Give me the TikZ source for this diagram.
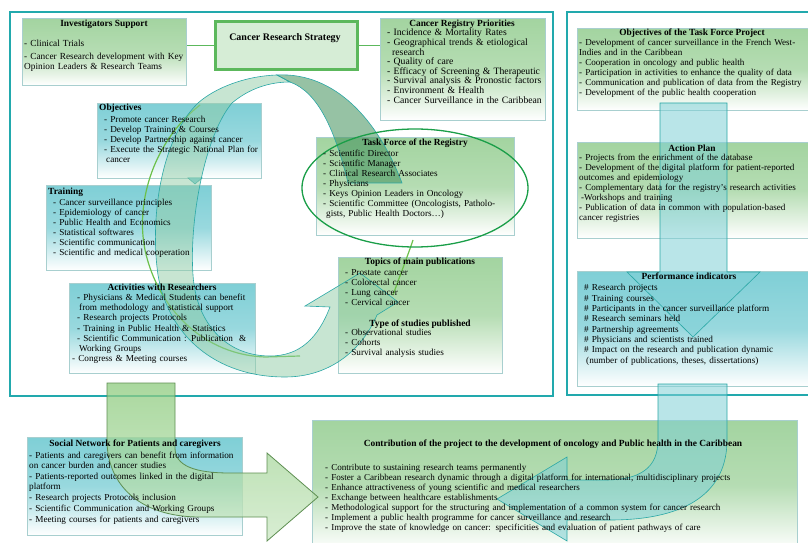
\documentclass[tikz,border=0pt]{standalone}
\usepackage{fontspec}
\setmainfont{Liberation Serif}
\usetikzlibrary{shapes.geometric}
\definecolor{frameC}{HTML}{22A9AD}
\definecolor{gboxC}{HTML}{A3D4A0}
\definecolor{tboxC}{HTML}{7FCFD6}
\definecolor{edgeC}{HTML}{A8CFCF}
\definecolor{glineC}{HTML}{5CB85C}
\definecolor{crsC}{HTML}{D6EDD6}
\definecolor{ribC}{HTML}{2AA7A5}
\definecolor{ribfillC}{HTML}{8FCCA6}
\definecolor{ribdarkC}{HTML}{3F8F5A}
\definecolor{ellC}{HTML}{1A9E48}
\definecolor{circC}{HTML}{6CC04A}
\definecolor{arrTC}{HTML}{7FD0D6}
\definecolor{arrGC}{HTML}{8DCB7E}
\definecolor{arrEdgeC}{HTML}{5E8F52}
\begin{document}
\begin{tikzpicture}[x=1bp,y=-1bp,
  gbox/.style={draw=edgeC, line width=0.6bp, top color=gboxC, bottom color=white, middle color=gboxC!80, anchor=north west, inner sep=0pt},
  tbox/.style={draw=edgeC, line width=0.6bp, top color=tboxC, bottom color=white, middle color=tboxC!80, anchor=north west, inner sep=0pt},
  items/.style={anchor=base west, inner sep=0pt, text width=300bp, align=left, font=\fontsize{9.2bp}{10bp}\selectfont},
  ttl/.style={anchor=base, inner sep=0pt, font=\fontsize{9.4bp}{10bp}\selectfont\bfseries},
  panel/.style={draw=frameC, line width=1.6bp},
  link/.style={draw=glineC, line width=1.5bp},
  rib/.style={draw=ribC, line width=0.6bp, fill=ribfillC, fill opacity=0.5},
  ribdark/.style={draw=ribC, line width=0.6bp, fill=ribdarkC, fill opacity=0.55},
  arrT/.style={draw=ribC, line width=0.6bp, fill=arrTC, fill opacity=0.55},
  arrG/.style={draw=arrEdgeC, line width=0.8bp, top color=arrGC, bottom color=arrGC!45, fill opacity=0.75},
]
\useasboundingbox (0,0) rectangle (808,543);
\clip (0,0) rectangle (808,543);

% panels
\draw[panel] (10,12) rectangle (553,396);
\draw[panel] (567,12) rectangle (815,395);

% boxes
\node[gbox, minimum width=164bp, minimum height=67bp] (inv) at (22,18) {};
\node[draw=glineC, line width=2.6bp, fill=crsC, minimum width=142bp, minimum height=48bp, anchor=north west, inner sep=0pt] (crs) at (214,20) {};
\node[gbox, minimum width=165bp, minimum height=102bp] (reg) at (380,18) {};
\node[tbox, minimum width=164bp, minimum height=75bp] (obj) at (97,103) {};
\node[tbox, minimum width=165bp, minimum height=85bp] (trn) at (46,185) {};
\node[tbox, minimum width=186bp, minimum height=90bp] (act) at (69,283) {};
\node[gbox, minimum width=198bp, minimum height=98bp] (tf) at (316,137) {};
\node[gbox, minimum width=164bp, minimum height=116bp] (top) at (338,257) {};
\node[gbox, minimum width=240bp, minimum height=82bp] (otf) at (577,28) {};
\node[gbox, minimum width=240bp, minimum height=96bp] (ap) at (577,142) {};
\node[tbox, minimum width=240bp, minimum height=115bp] (pi) at (577,271) {};
\node[tbox, minimum width=215bp, minimum height=98bp] (soc) at (27,437) {};
\node[gbox, minimum width=485bp, minimum height=130bp] (con) at (312,420) {};

% connectors
\draw[link] (crs.west) -- (crs.west -| inv.east);
\draw[link] (crs.east) -- (crs.east -| reg.west);

% green circle line
\draw[draw=circC, line width=1.2bp] (200,105) .. controls (155,140) and (135,200) .. (145,250) .. controls (158,310) and (205,355) .. (265,357) -- (300,356);
\draw[draw=circC, line width=1.2bp] (393,295) .. controls (402,270) and (408,255) .. (413,240);

% circular ribbon
\fill[fill=tboxC, draw=ribC, line width=0.5bp] (188,178) -- (202,178) -- (195,184) -- cycle;
\path[rib] (277,75) .. controls (245,76) and (215,88) .. (198,103) .. controls (160,140) and (150,220) .. (158,275) .. controls (168,335) and (215,377) .. (285,377) .. controls (330,377) and (362,350) .. (377,315) -- (398,302) -- (360,273) -- (305,306) -- (330,307) .. controls (318,338) and (300,356) .. (270,356) .. controls (225,356) and (196,322) .. (193,275) .. controls (189,220) and (205,135) .. (232,103) .. controls (250,88) and (270,82) .. (290,82) -- cycle;
\path[ribdark] (277,75) .. controls (335,72) and (378,120) .. (402,183) -- (348,183) .. controls (335,130) and (318,92) .. (290,82) -- cycle;

% right panel arrows
\path[arrT] (660,103) -- (727,103) -- (727,272) -- (760,272) -- (693,337) -- (627,272) -- (660,272) -- cycle;
\path[arrT] (658,384) -- (658,440) .. controls (658,468) and (640,480) .. (605,480) -- (567,480) -- (567,457) -- (497,499) -- (567,541) -- (567,520) -- (610,520) .. controls (690,520) and (727,490) .. (727,440) -- (727,384) -- cycle;
% bottom left arrow
\path[arrG] (107,383) -- (175,383) -- (175,448) .. controls (175,466) and (195,473) .. (230,473) -- (267,473) -- (267,453) -- (318,497) -- (267,541) -- (267,517) -- (200,517) .. controls (140,517) and (107,485) .. (107,440) -- cycle;

% ellipse
\node[draw=ellC, line width=1.3bp, ellipse, minimum width=226bp, minimum height=118bp, inner sep=0pt] (ell) at (415,188) {};

% texts
\node[ttl] (invH) at (104,27) {Investigators Support};
\node[items, font=\fontsize{9.3bp}{9.5bp}\selectfont] (invT) at (24,47) {- Clinical Trials\\[3.5bp]- Cancer Research development with Key\\Opinion Leaders \& Research Teams};

\node[ttl, font=\fontsize{10bp}{10bp}\selectfont\bfseries] (crsH) at (285,41) {Cancer Research Strategy};

\node[ttl] (regH) at (462,27) {Cancer Registry Priorities};
\node[items, font=\fontsize{9.7bp}{9.6bp}\selectfont] (regT) at (387,36) {- Incidence \& Mortality Rates\\- Geographical trends \& etiological\\\hspace*{5bp}research\\- Quality of care\\- Efficacy of Screening \& Therapeutic\\- Survival analysis \& Pronostic factors\\- Environment \& Health\\- Cancer Surveillance in the Caribbean};

\node[ttl, anchor=base west] (objH) at (99,111) {Objectives};
\node[items] (objT) at (104,123) {- Promote cancer Research\\- Develop Training \& Courses\\- Develop Partnership against cancer\\- Execute the Strategic National Plan for\\\hspace*{2bp}cancer};

\node[ttl, anchor=base west] (trnH) at (48,195) {Training};
\node[items] (trnT) at (53,206) {- Cancer surveillance principles\\- Epidemiology of cancer\\- Public Health and Economics\\- Statistical softwares\\- Scientific communication\\- Scientific and medical cooperation};

\node[ttl] (actH) at (162,291) {Activities with Researchers};
\node[items] (actT) at (72,301) {\hspace*{5bp}- Physicians \& Medical Students can benefit\\\hspace*{7bp}from methodology and statistical support\\\hspace*{5bp}- Research projects Protocols\\\hspace*{5bp}- Training in Public Health \& Statistics\\\hspace*{5bp}- Scientific Communication : Publication \ \&\\\hspace*{7bp}Working Groups\\- Congress \& Meeting courses};

\node[ttl] (tfH) at (415,146) {Task Force of the Registry};
\node[items] (tfT) at (323,157) {- Scientific Director\\- Scientific Manager\\- Clinical Research Associates\\- Physicians\\- Keys Opinion Leaders in Oncology\\- Scientific Committee (Oncologists, Patholo-\\\hspace*{3bp}gists, Public Health Doctors…)};

\node[ttl] (topH) at (420,265) {Topics of main publications};
\node[items] (topT) at (345,276) {- Prostate cancer\\- Colorectal cancer\\- Lung cancer\\- Cervical cancer};
\node[ttl] (typH) at (420,326) {Type of studies published};
\node[items] (typT) at (345,335) {- Observational studies\\- Cohorts\\- Survival analysis studies};

\node[ttl] (otfH) at (692,36) {Objectives of the Task Force Project};
\node[items, font=\fontsize{9.1bp}{10bp}\selectfont] (otfT) at (579,46) {- Development of cancer surveillance in the French West-\\Indies and in the Caribbean\\- Cooperation in oncology and public health\\- Participation in activities to enhance the quality of data\\- Communication and publication of data from the Registry\\- Development of the public health cooperation};

\node[ttl] (apH) at (692,152) {Action Plan};
\node[items, font=\fontsize{9.1bp}{10bp}\selectfont] (apT) at (579,161) {- Projects from the enrichment of the database\\- Development of the digital platform for patient-reported\\outcomes and epidemiology\\- Complementary data for the registry's research activities\\\hspace*{2bp}-Workshops and training\\- Publication of data in common with population-based\\cancer registries};

\node[ttl] (piH) at (689,280) {Performance indicators};
\node[items, font=\fontsize{9.2bp}{10.3bp}\selectfont] (piT) at (584,291) {\# Research projects\\\# Training courses\\\# Participants in the cancer surveillance platform\\\# Research seminars held\\\# Partnership agreements\\\# Physicians and scientists trained\\\# Impact on the research and publication dynamic\\\hspace*{2bp}(number of publications, theses, dissertations)};

\node[ttl] (socH) at (135,446) {Social Network for Patients and caregivers};
\node[items] (socT) at (29,458) {- Patients and caregivers can benefit from information\\on cancer burden and cancer studies\\[1.5bp]- Patients-reported outcomes linked in the digital\\platform\\[1bp]- Research projects Protocols inclusion\\[1bp]- Scientific Communication and Working Groups\\[1bp]- Meeting courses for patients and caregivers};

\node[ttl] (conH) at (553,446) {Contribution of the project to the development of oncology and Public health in the Caribbean};
\node[items, text width=480bp, font=\fontsize{9.1bp}{10bp}\selectfont] (conT) at (325,470) {- Contribute to sustaining research teams permanently\\- Foster a Caribbean research dynamic through a digital platform for international, multidisciplinary projects\\- Enhance attractiveness of young scientific and medical researchers\\- Exchange between healthcare establishments\\- Methodological support for the structuring and implementation of a common system for cancer research\\- Implement a public health programme for cancer surveillance and research\\- Improve the state of knowledge on cancer: specificities and evaluation of patient pathways of care};
\end{tikzpicture}
\end{document}
